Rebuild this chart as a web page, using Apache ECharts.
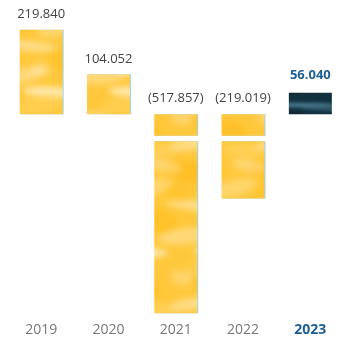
<!DOCTYPE html>
<html>
<head>
<meta charset="utf-8">
<script src="https://cdn.jsdelivr.net/npm/echarts@6/dist/echarts.min.js"></script>
<style>
  html, body { margin: 0; padding: 0; background: #ffffff; }
  #chart { width: 344px; height: 343px; }
</style>
</head>
<body>
<div id="chart"></div>
<script>
// Yearly results
const years = ['2019', '2020', '2021', '2022', '2023'];
const values = [219.840, 104.052, -517.857, -219.019, 56.040];
const highlightYear = '2023';

// Negative bars are drawn with a short white cut a little below the baseline
const CUT_FROM = 56;   // value below zero where the cut starts
const CUT_SIZE = 14;   // height of the cut in value units

function fmt(v) {
  const s = Math.abs(v).toFixed(3);
  return v < 0 ? '(' + s + ')' : s;
}

// Soft watercolour-like tile: blots are painted on a 3x3 wrapped sheet,
// blurred as one image, then the centre tile is cut out so it repeats seamlessly
function makeTexture(w, h, base, blots, blur) {
  const sheet = document.createElement('canvas');
  sheet.width = w * 3; sheet.height = h * 3;
  const g = sheet.getContext('2d');
  g.fillStyle = base;
  g.fillRect(0, 0, w * 3, h * 3);
  blots.forEach(function (b) {
    const [x, y, rx, ry, rot, col, a] = b;
    g.globalAlpha = a;
    g.fillStyle = col;
    for (let i = 0; i < 3; i++) {
      for (let j = 0; j < 3; j++) {
        g.beginPath();
        g.ellipse(x + i * w, y + j * h, rx, ry, rot, 0, Math.PI * 2);
        g.fill();
      }
    }
  });
  g.globalAlpha = 1;
  const soft = document.createElement('canvas');
  soft.width = w * 3; soft.height = h * 3;
  const s = soft.getContext('2d');
  s.filter = 'blur(' + blur + 'px)';
  s.drawImage(sheet, 0, 0);
  const out = document.createElement('canvas');
  out.width = w; out.height = h;
  out.getContext('2d').drawImage(soft, w, h, w, h, 0, 0, w, h);
  return out;
}

const yellowTex = makeTexture(86, 160, '#ffc83c', [
  [20, 12, 30, 10, 0.15, '#ffb812', 0.55],
  [62, 28, 26, 8, -0.2, '#ffdf8c', 0.6],
  [28, 46, 34, 5, 0.1, '#fff0c8', 0.55],
  [70, 60, 22, 12, 0.3, '#ffbb18', 0.5],
  [14, 76, 28, 8, -0.1, '#ffe3a0', 0.6],
  [52, 92, 30, 5, 0.05, '#fff5d8', 0.75],
  [38, 106, 26, 10, -0.25, '#ffd45e', 0.55],
  [78, 6, 18, 6, 0.2, '#ffe6a8', 0.5],
  [6, 32, 14, 10, 0, '#ffbe22', 0.45],
  [46, 126, 30, 9, 0.2, '#ffb915', 0.5],
  [20, 144, 24, 6, -0.15, '#ffebb8', 0.6],
  [70, 150, 20, 7, 0.1, '#ffd76e', 0.5],
  [40, 70, 10, 6, 0, '#fff2cc', 0.5],
  [10, 118, 12, 7, 0.3, '#ffe09a', 0.5]
], 3);

const navyTex = makeTexture(86, 24, '#12313f', [
  [40, 9, 40, 2.5, 0, '#4f8296', 0.8],
  [68, 13, 26, 2, 0.05, '#3a6a7e', 0.7],
  [16, 19, 30, 4, 0, '#0a1f2b', 0.7],
  [10, 4, 18, 3, -0.05, '#1f4556', 0.6]
], 1.5);

const yellowFill = { image: yellowTex, repeat: 'repeat' };
const navyFill = { image: navyTex, repeat: 'repeat' };
const edge = { shadowColor: 'rgba(150,205,228,0.9)', shadowOffsetX: 1, shadowBlur: 0 };

// Split every value into the stacked pieces of its bar
const headData = values.map(function (v, i) {
  const isHi = years[i] === highlightYear;
  const val = v >= 0 ? v : -Math.min(CUT_FROM, -v);
  return {
    value: val,
    itemStyle: Object.assign({ color: isHi ? navyFill : yellowFill }, isHi ? {} : edge),
    label: {
      show: true,
      formatter: fmt(v),
      color: isHi ? '#1d5e92' : '#444444',
      fontWeight: isHi ? 'bold' : 'normal',
      distance: isHi ? 11 : 9
    }
  };
});
const cutData = values.map(function (v) {
  return v < -(CUT_FROM + CUT_SIZE) ? -CUT_SIZE : '-';
});
const tailData = values.map(function (v) {
  return v < -(CUT_FROM + CUT_SIZE) ? v + CUT_FROM + CUT_SIZE : '-';
});

const chart = echarts.init(document.getElementById('chart'));
chart.setOption({
  animation: false,
  backgroundColor: '#ffffff',
  textStyle: { fontFamily: 'Open Sans, sans-serif' },
  grid: { left: 7.5, right: -3.5, top: 29.8, bottom: 29 },
  xAxis: {
    type: 'category',
    data: years,
    axisLine: { show: false, onZero: false },
    axisTick: { show: false },
    axisLabel: {
      interval: 0,
      margin: 9,
      fontSize: 14,
      color: '#777777',
      formatter: function (v) {
        return v === highlightYear ? '{hi|' + v + '}' : v;
      },
      rich: {
        hi: { fontSize: 14, fontWeight: 'bold', color: '#1d5e92' }
      }
    }
  },
  yAxis: {
    type: 'value',
    min: -520,
    max: 220,
    show: false,
    splitLine: { show: false }
  },
  series: [
    {
      type: 'bar',
      stack: 'total',
      barWidth: 43,
      data: headData,
      label: { show: true, position: 'top', fontSize: 13 }
    },
    {
      type: 'bar',
      stack: 'total',
      barWidth: 43,
      data: cutData,
      itemStyle: { color: 'rgba(0,0,0,0)' },
      silent: true
    },
    {
      type: 'bar',
      stack: 'total',
      barWidth: 43,
      data: tailData,
      itemStyle: Object.assign({ color: yellowFill }, edge)
    }
  ]
});
</script>
</body>
</html>
